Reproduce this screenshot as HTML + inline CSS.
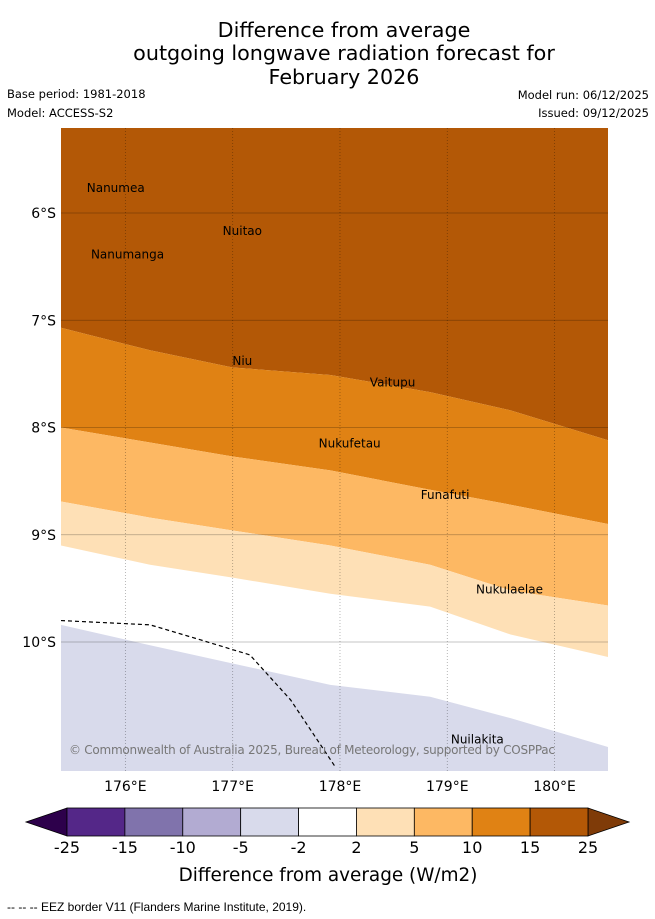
<!DOCTYPE html>
<html><head><meta charset="utf-8"><style>
body{margin:0;background:#fff;font-family:"Liberation Sans",sans-serif;}
#wrap{position:relative;width:655px;height:919px;overflow:hidden;}
</style></head><body>
<div id="wrap">
<svg id="svg" width="655" height="919" xmlns="http://www.w3.org/2000/svg" font-family="Liberation Sans, sans-serif">
<g font-size="20.7" text-anchor="middle" fill="#000" font-family="DejaVu Sans, sans-serif">
<text x="344" y="37">Difference from average</text>
<text x="344" y="60">outgoing longwave radiation forecast for</text>
<text x="344" y="84">February 2026</text>
</g>
<g font-family="DejaVu Sans, sans-serif" font-size="11.5">
<text x="7" y="98">Base period: 1981-2018</text>
<text x="7" y="117">Model: ACCESS-S2</text>
<text x="649" y="99" text-anchor="end">Model run: 06/12/2025</text>
<text x="649" y="117" text-anchor="end">Issued: 09/12/2025</text>
</g>
<defs><clipPath id="mc"><rect x="61" y="128" width="547" height="643"/></clipPath></defs>
<g id="map" clip-path="url(#mc)"></g>
<g id="axes"></g>
<g id="cbar"></g>
<text x="328" y="881" font-size="18.4" text-anchor="middle" font-family="DejaVu Sans, sans-serif">Difference from average (W/m2)</text>
<text x="7" y="911" font-size="12">-- -- -- EEZ border V11 (Flanders Marine Institute, 2019).</text>
</svg>
</div>
<script>
const lons=[175.4,176.23,177.0,177.91,178.84,179.59,180.5];
const lat15=[7.07,7.28,7.44,7.51,7.67,7.84,8.12];
const lat10=[8.0,8.14,8.27,8.40,8.58,8.72,8.90];
const lat5=[8.69,8.84,8.96,9.10,9.28,9.52,9.66];
const lat2=[9.10,9.28,9.40,9.55,9.67,9.93,10.14];
const latm2=[9.84,10.03,10.20,10.40,10.51,10.71,10.98];
const eezLon=[175.4,176.23,176.7,177.16,177.54,177.96];
const eezLat=[9.80,9.84,9.98,10.12,10.54,11.17];
const lonTicks=[176,177,178,179,180];
const latTicks=[6,7,8,9,10];
const islandNames=["Nanumea","Nuitao","Nanumanga","Niu","Vaitupu","Nukufetau","Funafuti","Nukulaelae","Nuilakita"];
const islandLon=[175.91,177.09,176.02,177.09,178.49,178.09,178.98,179.58,179.28];
const islandLat=[5.75,6.15,6.37,7.36,7.56,8.13,8.61,9.49,10.89];
const cbLevels=["-25","-15","-10","-5","-2","2","5","10","15","25"];
const cbColors=["#542788","#8073ac","#b2abd2","#d8daeb","#ffffff","#fee0b6","#fdb863","#e08214","#b35806"];
const NS="http://www.w3.org/2000/svg";
const X=lon=>61+(lon-175.4)*107.3;
const Y=lat=>213+(lat-6)*107.25;
function mk(tag,at,parent){const e=document.createElementNS(NS,tag);for(const k in at)e.setAttribute(k,at[k]);parent.appendChild(e);return e;}
const map=document.getElementById('map');
function line(arr){return lons.map((l,i)=>X(l)+','+Y(arr[i])).join(' L');}
function rline(arr){return lons.map((l,i)=>X(l)+','+Y(arr[i])).reverse().join(' L');}
let r=mk('rect',{x:61,y:128,width:547,height:643,fill:'#ffffff'},map);


const bands=[[null,lat15,'#b35806','band-15-25'],[lat15,lat10,'#e08214','band-10-15'],[lat10,lat5,'#fdb863','band-5-10'],[lat5,lat2,'#fee0b6','band-2-5']];
bands.forEach(b=>{
  let d;
  if(!b[0]) d='M61,120 L620,120 L'+rline(b[1])+' Z';
  else d='M'+line(b[0])+' L'+rline(b[1])+' Z';
  const p=mk('path',{d:d,fill:b[2]},map);
  
  
});
let pm=mk('path',{d:'M'+line(latm2)+' L620,780 L50,780 Z',fill:'#d8daeb'},map);


lonTicks.forEach(l=>{const g=mk('line',{x1:X(l),x2:X(l),y1:128,y2:771,stroke:'#000','stroke-opacity':0.35,'stroke-dasharray':'1,2','stroke-width':0.8},map);

});
latTicks.forEach(l=>{const g=mk('line',{x1:61,x2:608,y1:Y(l),y2:Y(l),stroke:'#000','stroke-opacity':0.3,'stroke-width':0.8},map);

});
let ez=mk('path',{d:'M'+eezLon.map((l,i)=>X(l)+','+Y(eezLat[i])).join(' L'),fill:'none',stroke:'#000','stroke-width':1.2,'stroke-dasharray':'4,3'},map);


islandNames.forEach((n,i)=>{
  const t=mk('text',{x:X(islandLon[i]),y:Y(islandLat[i])+6,'font-size':12,'text-anchor':'middle',fill:'#000','font-family':'DejaVu Sans, sans-serif'},map);
  t.textContent=n;
  
  
});
let cp=mk('text',{x:69,y:754,'font-size':12,fill:'#777','font-family':'DejaVu Sans, sans-serif'},map);
cp.textContent='© Commonwealth of Australia 2025, Bureau of Meteorology, supported by COSPPac';


cp.setAttribute('textLength','486');
const ax=document.getElementById('axes');
lonTicks.forEach(l=>{const t=mk('text',{x:X(l),y:791,'font-size':14,'text-anchor':'middle','font-family':'DejaVu Sans, sans-serif'},ax);t.textContent=l+'°E';

});
latTicks.forEach(l=>{const t=mk('text',{x:56,y:Y(l)+5,'font-size':14,'text-anchor':'end','font-family':'DejaVu Sans, sans-serif'},ax);t.textContent=l+'°S';

});
const cb=document.getElementById('cbar');
const cx0=67,cw=(588-67)/cbColors.length;
let tl=mk('polygon',{points:'26,822 67,808 67,836',fill:'#2d004b',stroke:'#000','stroke-width':0.8},cb);


let tr=mk('polygon',{points:'629,822 588,808 588,836',fill:'#7f3b08',stroke:'#000','stroke-width':0.8},cb);


cbColors.forEach((c,i)=>{const b=mk('rect',{x:cx0+i*cw,y:808,width:cw,height:28,fill:c,stroke:'#000','stroke-width':0.8},cb);

});
cbLevels.forEach((v,i)=>{const t=mk('text',{x:cx0+i*cw,y:853,'font-size':16,'text-anchor':'middle','font-family':'DejaVu Sans, sans-serif'},cb);t.textContent=v;

});
</script>
</body></html>
